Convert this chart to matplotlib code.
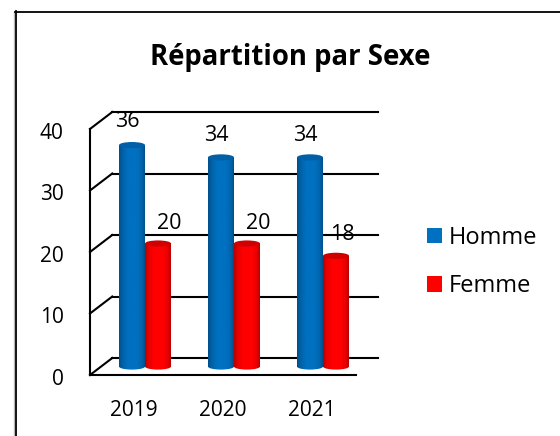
import numpy as np
import matplotlib
matplotlib.use('Agg')
import matplotlib.pyplot as plt
from matplotlib.colors import LinearSegmentedColormap
from matplotlib.lines import Line2D
from matplotlib.patches import Ellipse, Patch

# --- Data ---
years = ['2019', '2020', '2021']
homme = [36, 34, 34]
femme = [20, 20, 18]
y_ticks = [0, 10, 20, 30, 40]

# --- Configuration ---
W, H = 560, 436
BLUE = '#0070c0'
RED = '#ff0000'
FONT = 'Open Sans'
BAR_W = 0.292
DEPTH_X = 0.125   # half of the fake 3D depth, x units
DEPTH_Y = 1.38    # half of the fake 3D depth, y units
X_MIN, X_MAX = -0.618, 2.618
Y_MIN = -DEPTH_Y - 0.488   # 3 px of room under the floor, keeps the 0 tick in view

blue_map = LinearSegmentedColormap.from_list(
    'b', [(0, '#004f8a'), (0.14, '#0062a8'), (0.35, BLUE), (0.7, BLUE), (0.88, '#0064ad'), (1, '#00508c')])
red_map = LinearSegmentedColormap.from_list(
    'r', [(0, '#b80000'), (0.14, '#e60000'), (0.35, RED), (0.7, RED), (0.88, '#e80000'), (1, '#b80000')])
gradient = np.linspace(0, 1, 64).reshape(1, -1)


def draw_cylinder(ax, bar, cmap, top_color):
    x0, w, top = bar.get_x(), bar.get_width(), bar.get_height()
    cx = x0 + w / 2
    cap_h = 1.0
    bottom = Ellipse((cx, 0), w, cap_h, transform=ax.transData)
    for clip in (bar, bottom):
        img = ax.imshow(gradient, cmap=cmap, aspect='auto', zorder=3,
                        extent=(x0, x0 + w, -1, top))
        img.set_clip_path(clip)
    ax.add_patch(Ellipse((cx, top), w, cap_h, color=top_color, lw=0, zorder=4))


def add_labels(ax, xs, values, offsets, lifts):
    for x, v, dx, dy in zip(xs, values, offsets, lifts):
        ax.text(x + dx, v + dy, str(v), ha='center', va='center',
                fontsize=15.5, family=FONT, color='black', zorder=5)


fig = plt.figure(figsize=(W / 100, H / 100), dpi=100)
ax = fig.add_axes([90 / W, 1 - 378 / H, (378 - 90) / W, (378 - 112) / H])

# Outer frame of the chart object, only left and top fall inside the picture
fig.add_artist(Line2D([14 / W, 14 / W], [0, 1 - 12 / H], color='#b8b8b8', lw=1.0))
fig.add_artist(Line2D([15.5 / W, 15.5 / W], [0, 1 - 11.5 / H], color='black', lw=1.3))
fig.add_artist(Line2D([15 / W, 1], [1 - 11.8 / H, 1 - 11.8 / H], color='black', lw=1.3))

# Walls and floor
x_front = X_MIN
x_back = X_MIN + 2 * DEPTH_X
x_floor = X_MAX - 2 * DEPTH_X
for v in y_ticks:
    ax.plot([x_back, X_MAX], [v + DEPTH_Y, v + DEPTH_Y], color='black', lw=1.5, zorder=1, clip_on=False)
    ax.plot([x_front, x_back], [v - DEPTH_Y, v + DEPTH_Y], color='black', lw=1.5, zorder=1, clip_on=False)
ax.plot([x_front, x_front], [-DEPTH_Y, 40 - DEPTH_Y], color='black', lw=1.5, zorder=2, clip_on=False)
ax.plot([x_front, x_floor], [-DEPTH_Y, -DEPTH_Y], color='black', lw=1.5, zorder=2, clip_on=False)

# Bars
x = np.arange(len(years))
bars_h = ax.bar(x - BAR_W / 2, homme, BAR_W, color=BLUE, zorder=3, label='Homme')
bars_f = ax.bar(x + BAR_W / 2, femme, BAR_W, color=RED, zorder=3, label='Femme')
for b in bars_h:
    draw_cylinder(ax, b, blue_map, '#005fa6')
for b in bars_f:
    draw_cylinder(ax, b, red_map, '#cf0000')

add_labels(ax, x, homme, [-0.2, -0.2, -0.2], [3.9, 3.5, 3.5])
add_labels(ax, x, femme, [0.27, 0.27, 0.22], [3.2, 3.2, 3.5])

ax.set_xticks(x - DEPTH_X, years, family=FONT, fontsize=15)
ax.set_yticks([v - DEPTH_Y - 0.3 for v in y_ticks], [str(v) for v in y_ticks], family=FONT, fontsize=15)
# limits go after the ticks, the lowest tick sits under the floor
ax.set_xlim(X_MIN, X_MAX)
ax.set_ylim(Y_MIN, 40 + DEPTH_Y)
ax.tick_params(axis='x', length=0, pad=15.8)
ax.tick_params(axis='y', length=0, pad=19)
for s in ax.spines.values():
    s.set_visible(False)
ax.patch.set_alpha(0)

fig.text(290 / W, 1 - 57 / H, 'Répartition par Sexe', ha='center', va='center',
         fontsize=19.8, fontweight='bold', family=FONT)

handles = [Patch(color=BLUE, lw=0), Patch(color=RED, lw=0)]
fig.legend(handles, ['Homme', 'Femme'], loc='center left',
           bbox_to_anchor=(427 / W, 1 - 262 / H), frameon=False,
           prop={'family': FONT, 'size': 17}, handlelength=0.64, handleheight=0.64,
           handletextpad=0.3, labelspacing=1.02, borderpad=0, borderaxespad=0)

fig.savefig('out.png', dpi=100)
